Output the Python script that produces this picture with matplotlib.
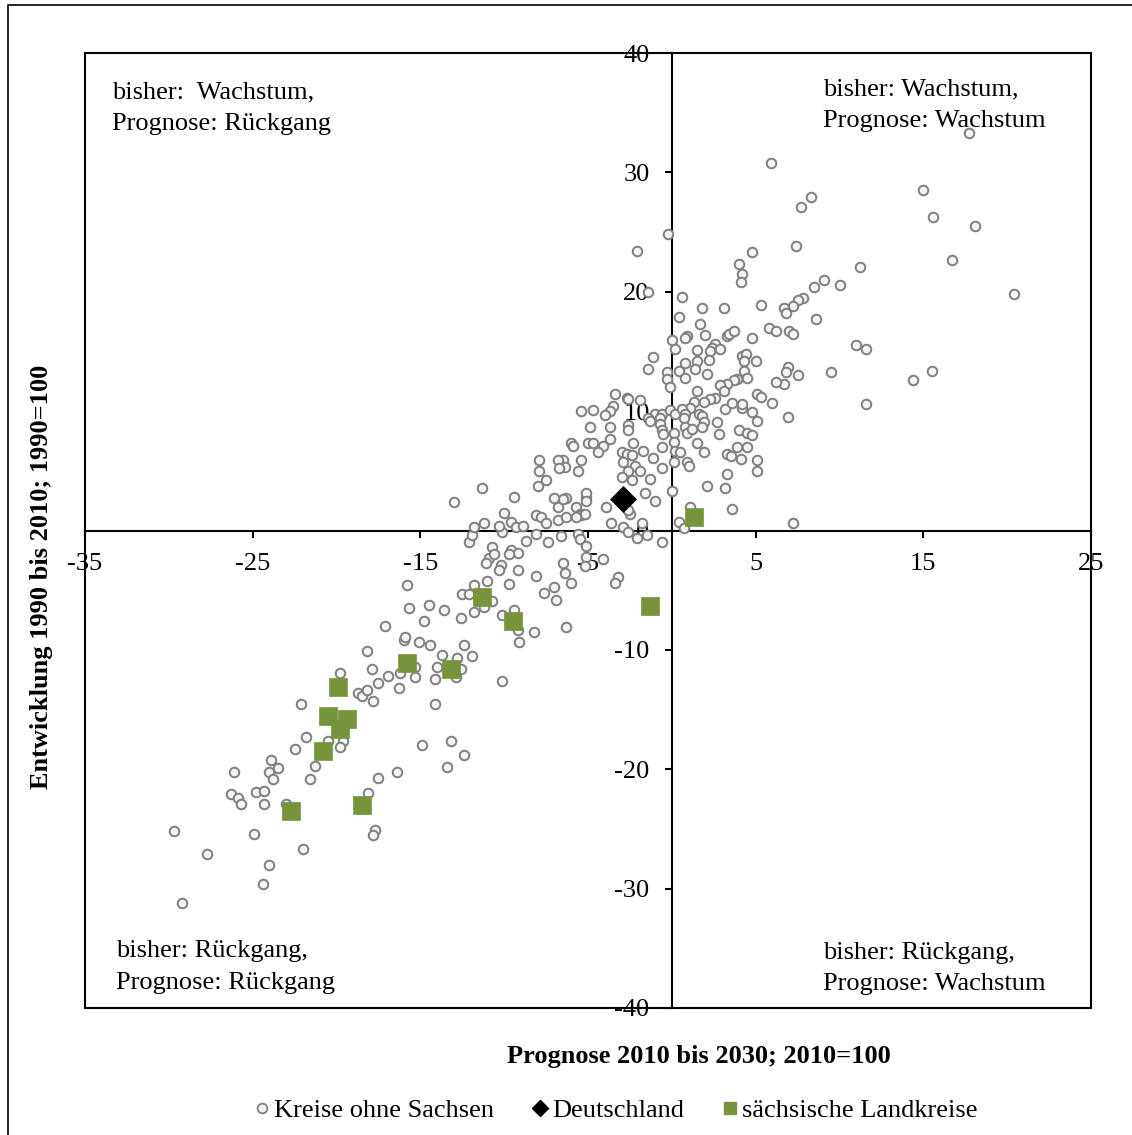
import matplotlib
matplotlib.use("Agg")
import matplotlib.pyplot as plt
from matplotlib.lines import Line2D
from matplotlib.patches import Rectangle

plt.rcParams['font.family'] = ['Liberation Serif', 'DejaVu Serif']

# ---------------- data ----------------
# (Prognose 2010-2030, Entwicklung 1990-2010) for Kreise ohne Sachsen
kreise_sw = [
    (-15.8,-4.6),(-15.7,-6.5),(-14.5,-6.2),(-17.1,-8.0),(-14.8,-7.6),(-16.0,-9.2),(-15.9,-8.9),
    (-15.1,-9.3),(-14.4,-9.6),(-18.2,-10.1),(-17.9,-11.6),(-19.8,-11.9),(-16.9,-12.2),(-17.5,-12.8),
    (-15.3,-11.4),(-15.3,-12.3),(-16.2,-11.9),(-16.3,-13.2),(-18.7,-13.6),(-18.5,-13.9),(-18.2,-13.4),
    (-17.8,-14.3),(-22.1,-14.5),(-21.8,-17.3),(-20.5,-17.6),(-19.6,-17.6),(-19.8,-18.1),(-22.5,-18.3),
    (-21.3,-19.7),(-21.6,-20.8),(-23.9,-19.2),(-24.0,-20.2),(-23.5,-19.9),(-23.8,-20.8),(-26.1,-20.2),
    (-14.9,-18.0),(-13.2,-17.6),(-12.4,-18.8),(-13.4,-19.8),(-16.4,-20.2),(-17.5,-20.7),(-18.1,-22.0),
    (-26.3,-22.1),(-25.9,-22.4),(-25.7,-22.9),(-24.8,-21.9),(-24.3,-21.8),(-24.3,-22.9),(-23.0,-22.9),
    (-29.7,-25.2),(-24.9,-25.4),(-17.7,-25.1),(-17.8,-25.5),(-27.7,-27.1),(-22.0,-26.7),(-24.0,-28.0),
    (-24.4,-29.6),(-29.2,-31.2),
]
kreise_mid_low = [
    (-12.1,-1.0),(-11.9,-0.4),(-10.1,-0.1),(-8.7,-0.9),(-8.1,-0.3),(-7.4,-1.0),(-6.6,-0.5),(-5.6,-0.3),
    (-5.5,-0.7),(-5.1,-1.3),(-2.1,-0.6),(-0.6,-1.0),(-10.7,-1.4),(-9.6,-1.6),(-9.2,-1.9),(-9.7,-2.0),
    (-10.9,-2.3),(-11.1,-2.7),(-10.6,-2.0),(-10.2,-2.9),(-10.3,-3.3),(-9.2,-3.3),(-6.5,-2.7),(-5.1,-2.2),
    (-5.2,-3.0),(-4.1,-2.4),(-6.4,-3.6),(-8.1,-3.8),(-11.0,-4.2),(-11.8,-4.6),(-9.7,-4.5),(-6.0,-4.4),
    (-3.2,-3.9),(-3.4,-4.4),(-7.0,-4.7),(-7.6,-5.2),(-6.9,-5.8),(-12.5,-5.3),(-12.1,-5.3),(-10.7,-5.9),
    (-11.2,-6.4),(-11.8,-6.8),(-13.6,-6.7),(-12.6,-7.3),(-10.1,-7.1),(-9.4,-6.7),(-9.2,-8.3),(-8.2,-8.5),
    (-6.3,-8.1),(-9.1,-9.3),(-12.4,-9.6),(-11.9,-10.5),(-13.7,-10.4),(-12.8,-10.7),(-14.0,-11.4),
    (-12.6,-11.6),(-14.1,-12.4),(-12.9,-12.3),(-10.1,-12.6),(-14.1,-14.5),
]
kreise_ne = [
    (17.7,33.3),(15.0,28.5),(8.3,27.9),(7.7,27.1),(15.6,26.3),(18.1,25.5),(7.4,23.8),(16.7,22.7),
    (11.2,22.1),(9.1,21.0),(8.5,20.4),(10.0,20.6),(20.4,19.8),(7.8,19.5),(7.5,19.3),(7.2,18.8),
    (6.7,18.6),(6.8,18.2),(8.6,17.7),(7.0,16.7),(7.2,16.5),(11.0,15.5),(11.6,15.2),(6.9,13.7),
    (6.8,13.3),(7.5,13.0),(6.7,12.3),(9.5,13.3),(15.5,13.4),(14.4,12.6),(11.6,10.6),(6.9,9.5),
    (7.2,0.6),(5.9,30.8),(-0.2,24.8),(-2.1,23.4),(4.8,23.3),(4.0,22.3),(4.2,21.5),
]
kreise_center = [
    (-1.4,20.0),(0.6,19.6),(1.8,18.6),(3.1,18.6),(4.1,20.8),(5.3,18.9),(0.4,17.9),(1.7,17.3),
    (2.0,16.4),(0.9,16.3),(0.8,16.1),(3.3,16.3),(3.4,16.5),(3.7,16.7),(4.8,16.1),(5.8,17.0),
    (6.2,16.7),(0.0,16.0),(0.2,15.2),(2.6,15.6),(2.4,15.3),(2.3,15.0),(2.9,15.2),(1.5,15.1),
    (2.2,14.3),(1.5,14.2),(0.8,14.0),(-1.1,14.5),(-1.4,13.5),(-0.3,13.3),(0.4,13.4),(1.4,13.5),
    (0.8,12.8),(2.1,13.1),(4.2,14.6),(4.4,14.8),(4.3,14.2),(5.0,14.2),(4.3,13.4),(4.5,12.8),
    (6.2,12.4),(3.9,12.7),(3.7,12.6),(3.3,12.3),(2.9,12.2),(-0.3,12.7),(-0.1,12.0),(1.5,11.7),
    (3.1,11.7),(2.6,11.1),(2.3,11.0),(1.9,10.8),(1.3,10.8),(1.1,10.3),(-3.4,11.4),(-2.7,11.1),
    (-2.6,11.0),(-1.9,10.9),(-3.5,10.4),(-3.7,10.0),(-4.0,9.7),(-4.7,10.1),(-5.4,10.0),(-1.0,9.8),
    (-0.6,9.8),(-1.4,9.4),(-0.7,9.4),(-0.1,10.1),(0.2,9.8),(0.6,10.2),(0.8,9.8),(0.7,9.4),
    (1.6,9.8),(1.8,9.6),(3.2,10.2),(3.6,10.7),(4.2,10.3),(4.2,10.6),(4.8,9.9),(5.1,9.2),
    (5.1,11.4),(5.3,11.2),(6.0,10.7),(-4.9,8.7),(-3.7,8.7),(-2.6,8.8),(-2.6,8.4),(-1.3,9.2),
    (-0.7,8.9),(-0.6,8.4),(-0.5,8.1),(0.1,8.2),(0.8,8.7),(0.9,8.2),(1.2,8.5),(1.9,9.1),
    (1.8,8.7),(2.7,9.1),(2.8,8.1),(4.0,8.4),(4.5,8.2),(4.8,8.0),(-3.7,7.7),(-5.0,7.3),
    (-4.7,7.3),(-4.1,7.1),(-4.4,6.6),(-6.0,7.3),(-5.9,7.1),(-2.3,7.3),(-3.0,6.6),(-2.7,6.4),
    (-2.4,6.3),(-1.7,6.7),(-1.1,6.1),(-0.6,7.0),(0.1,7.4),(0.2,6.7),(0.5,6.6),(0.9,5.7),
    (1.0,5.4),(1.5,7.3),(1.9,6.6),(3.3,6.4),(3.9,7.0),(4.5,7.0),(3.5,6.2),(4.1,6.0),
    (5.1,5.9),(5.1,5.0),(3.3,4.7),(-2.9,5.7),(-2.2,5.4),(-1.3,4.3),(-0.6,5.2),(-1.9,5.0),
    (-2.6,5.0),(-6.5,5.9),(-6.4,5.3),(-5.6,5.0),(-5.4,5.9),
    (2.1,3.7),(3.2,3.6),(3.6,1.8),(1.1,2.0),(0.4,0.7),(0.7,0.2),(0.1,5.7),
]
kreise_west = [
    (-7.9,5.9),(-6.8,5.9),(-6.7,5.2),(-7.9,5.0),(-7.5,4.2),(-8.0,3.7),(-11.3,3.6),(-9.4,2.8),
    (-13.0,2.4),(-10.0,1.5),(-11.8,0.3),(-11.2,0.6),(-10.3,0.4),(-9.6,0.7),(-9.3,0.3),(-8.9,0.4),
    (-8.1,1.3),(-7.8,1.1),(-7.5,0.6),(-6.8,0.9),(-6.3,1.1),(-6.8,2.0),(-6.3,2.7),(-6.5,2.6),
    (-7.0,2.7),(-5.7,2.0),(-5.5,1.4),(-5.4,1.3),(-5.2,1.4),(-5.7,1.1),(-5.1,2.8),(-5.1,3.1),
    (-5.1,2.5),(-3.9,2.0),(-3.6,0.6),(-2.9,0.3),(-2.6,-0.1),(-1.8,0.6),(-1.5,-0.4),(-2.5,1.4),
    (-2.6,1.7),(-1.6,3.1),(-1.0,2.5),(-2.4,4.2),(-3.0,4.5),(0.0,3.3),
]
# sächsische Landkreise
sachsen = [
    (1.3,1.1),(-1.3,-6.3),(-11.3,-5.6),(-9.5,-7.6),(-15.8,-11.1),(-13.2,-11.6),(-19.9,-13.1),
    (-20.5,-15.5),(-19.4,-15.8),(-19.8,-16.6),(-20.8,-18.5),(-22.7,-23.5),(-18.5,-23.0),
]
# Deutschland
deutschland = [(-2.9, 2.6)]

x_ticks = [-35, -25, -15, -5, 5, 15, 25]
x_tick_labels = ['-35', '-25', '-15', '-5', '5', '15', '25']
y_ticks = [-40, -30, -20, -10, 0, 10, 20, 30, 40]
y_tick_labels = ['-40', '-30', '-20', '-10', '0', '10', '20', '30', '40']

quadrant_texts = [
    "bisher:  Wachstum,\nPrognose: Rückgang",
    "bisher: Wachstum,\nPrognose: Wachstum",
    "bisher: Rückgang,\nPrognose: Rückgang",
    "bisher: Rückgang,\nPrognose: Wachstum",
]
series_labels = ["Kreise ohne Sachsen", "Deutschland", "sächsische Landkreise"]
x_label = "Prognose 2010 bis 2030; 2010=100"
y_label = "Entwicklung 1990 bis 2010; 1990=100"

# ---------------- plot ----------------
W, H = 1132, 1135
fig = plt.figure(figsize=(W / 100, H / 100), dpi=100)
fig.patch.set_facecolor('white')

ax = fig.add_axes([85 / W, (H - 1008) / H, 1006 / W, 955 / H])
ax.set_xlim(-35, 25)
ax.set_ylim(-40, 40)

FS = 19
GREY = '#7f7f7f'
GREEN = '#77933c'

all_kreise = kreise_sw + kreise_mid_low + kreise_ne + kreise_center + kreise_west
kx = [p[0] for p in all_kreise]
ky = [p[1] for p in all_kreise]
ax.plot(kx, ky, linestyle='none', marker='o', ms=6.9, mfc='#f4f4f4', mec=GREY,
        mew=1.4, zorder=3)

dx = [p[0] for p in deutschland]
dy = [p[1] for p in deutschland]
ax.plot(dx, dy, linestyle='none', marker='D', ms=13.5, mfc='black', mec='black',
        mew=0.5, zorder=4)

sx = [p[0] for p in sachsen]
sy = [p[1] for p in sachsen]
ax.plot(sx, sy, linestyle='none', marker='s', ms=13, mfc=GREEN, mec=GREEN,
        mew=0.5, zorder=5)

# axes through the origin
for side in ['top', 'right']:
    ax.spines[side].set_visible(False)
ax.spines['left'].set_position(('data', 0))
ax.spines['bottom'].set_position(('data', 0))
ax.spines['left'].set_linewidth(1.5)
ax.spines['bottom'].set_linewidth(1.5)
ax.add_patch(Rectangle((0, 0), 1, 1, transform=ax.transAxes, fill=False,
                       ec='black', lw=1.5, clip_on=False, zorder=2))

ax.set_xticks(x_ticks)
ax.set_xticklabels(x_tick_labels)
ax.set_yticks(y_ticks)
ax.set_yticklabels(y_tick_labels)
ax.tick_params(axis='both', direction='out', length=5, width=1.5, labelsize=FS,
               pad=11, colors='black')

# quadrant annotations
LS = 1.55
ax.text(0.027, 0.942, quadrant_texts[0], transform=ax.transAxes, fontsize=FS,
        ha='left', va='center', linespacing=LS)
ax.text(0.7336, 0.945, quadrant_texts[1], transform=ax.transAxes, fontsize=FS,
        ha='left', va='center', linespacing=LS)
ax.text(0.031, 0.043, quadrant_texts[2], transform=ax.transAxes, fontsize=FS,
        ha='left', va='center', linespacing=LS)
ax.text(0.7336, 0.0415, quadrant_texts[3], transform=ax.transAxes, fontsize=FS,
        ha='left', va='center', linespacing=LS)

# axis titles
fig.text(699 / W, 1 - 1056 / H, x_label, ha='center', va='center',
         fontsize=FS, fontweight='bold')
fig.text(42 / W, 1 - 577 / H, y_label, ha='center', va='center', rotation=90,
         fontsize=FS, fontweight='bold')

# legend
handles = [
    Line2D([], [], linestyle='none', marker='o', ms=7, mfc='#f4f4f4', mec=GREY, mew=1.3),
    Line2D([], [], linestyle='none', marker='D', ms=8.5, mfc='black', mec='black'),
    Line2D([], [], linestyle='none', marker='s', ms=8, mfc=GREEN, mec=GREEN),
]
fig.legend(handles, series_labels, loc='center', bbox_to_anchor=(616 / W, 1 - 1110 / H),
           ncol=3, frameon=False, fontsize=FS, handlelength=0.6, handletextpad=0.15,
           columnspacing=1.45, borderpad=0)

# outer chart border (left and top edges visible)
fig.add_artist(Line2D([7.5 / W, 7.5 / W, 1.0], [0.0, 1 - 5 / H, 1 - 5 / H],
                      transform=fig.transFigure, color='black', lw=1.2))

fig.savefig('out.png', dpi=100, facecolor='white')
